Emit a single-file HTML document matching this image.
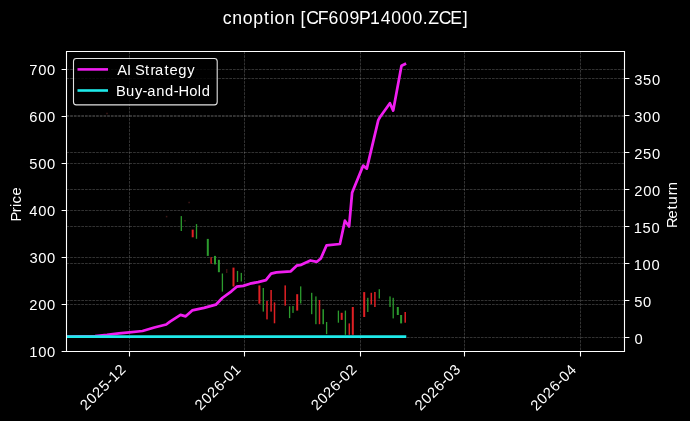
<!DOCTYPE html>
<html><head><meta charset="utf-8"><title>chart</title>
<style>html,body{margin:0;padding:0;background:#000;overflow:hidden}svg{display:block;will-change:transform}text{font-family:"Liberation Sans", sans-serif}</style>
</head><body><svg width="690" height="421" viewBox="0 0 690 421" font-family='"Liberation Sans", sans-serif' fill="#fff"><rect x="0" y="0" width="690" height="421" fill="#000"/><path d="M129.5 51.5V351.5M244.5 51.5V351.5M360.5 51.5V351.5M464.5 51.5V351.5M580.5 51.5V351.5M66.5 304.5H624.5M66.5 257.5H624.5M66.5 210.5H624.5M66.5 163.5H624.5M66.5 116.5H624.5M66.5 69.5H624.5M66.5 337.5H624.5M66.5 300.5H624.5M66.5 263.5H624.5M66.5 226.5H624.5M66.5 189.5H624.5M66.5 152.5H624.5M66.5 115.5H624.5M66.5 78.5H624.5" stroke="#fff" stroke-opacity="0.23" stroke-width="0.85" stroke-dasharray="2.7 1.0" fill="none"/><rect x="180.65" y="216.1" width="1.3" height="14.9" fill="#2c9c2e"/><rect x="191.70" y="229.6" width="2.0" height="7.7" fill="#e02024"/><rect x="195.85" y="224.1" width="1.3" height="14.7" fill="#2c9c2e"/><rect x="206.80" y="238.9" width="2.0" height="17.0" fill="#2c9c2e"/><rect x="210.45" y="257.2" width="1.3" height="6.5" fill="#e02024"/><rect x="214.00" y="255.9" width="2.0" height="8.5" fill="#2c9c2e"/><rect x="217.90" y="259.8" width="2.0" height="12.4" fill="#2c9c2e"/><rect x="221.75" y="273.5" width="1.3" height="18.1" fill="#2c9c2e"/><rect x="226.30" y="269.0" width="1.0" height="4.0" fill="#5a1a1a"/><rect x="232.50" y="267.6" width="2.0" height="18.9" fill="#e02024"/><rect x="236.85" y="270.9" width="1.3" height="11.1" fill="#2c9c2e"/><rect x="240.65" y="272.9" width="1.3" height="8.6" fill="#2c9c2e"/><rect x="258.40" y="285.4" width="2.0" height="18.3" fill="#e02024"/><rect x="262.65" y="288.0" width="1.3" height="23.6" fill="#2c9c2e"/><rect x="266.25" y="301.0" width="1.5" height="18.4" fill="#e02024"/><rect x="270.35" y="290.0" width="1.5" height="21.6" fill="#e02024"/><rect x="273.75" y="302.4" width="1.5" height="20.9" fill="#e02024"/><rect x="284.45" y="285.4" width="1.5" height="20.3" fill="#e02024"/><rect x="288.95" y="306.3" width="1.3" height="11.8" fill="#2c9c2e"/><rect x="292.35" y="306.0" width="1.3" height="6.9" fill="#2c9c2e"/><rect x="296.20" y="294.2" width="2.0" height="16.4" fill="#e02024"/><rect x="300.05" y="286.4" width="1.3" height="17.1" fill="#2c9c2e"/><rect x="311.05" y="292.8" width="1.3" height="21.4" fill="#2c9c2e"/><rect x="315.25" y="296.4" width="1.3" height="27.8" fill="#2c9c2e"/><rect x="318.75" y="300.0" width="1.5" height="24.2" fill="#e02024"/><rect x="322.45" y="309.2" width="1.5" height="15.0" fill="#2c9c2e"/><rect x="325.95" y="322.0" width="1.3" height="12.1" fill="#2c9c2e"/><rect x="337.75" y="310.6" width="1.3" height="12.1" fill="#2c9c2e"/><rect x="340.70" y="312.8" width="2.0" height="7.1" fill="#e02024"/><rect x="344.75" y="310.6" width="1.3" height="24.2" fill="#2c9c2e"/><rect x="348.55" y="323.4" width="1.5" height="11.4" fill="#e02024"/><rect x="351.80" y="307.0" width="2.0" height="27.8" fill="#e02024"/><rect x="363.20" y="292.1" width="2.0" height="24.9" fill="#e02024"/><rect x="367.15" y="297.8" width="1.3" height="14.2" fill="#2c9c2e"/><rect x="370.55" y="292.8" width="1.5" height="11.4" fill="#e02024"/><rect x="374.15" y="292.0" width="1.5" height="15.0" fill="#e02024"/><rect x="378.65" y="289.2" width="1.3" height="9.3" fill="#2c9c2e"/><rect x="389.35" y="296.4" width="1.3" height="10.6" fill="#2c9c2e"/><rect x="392.55" y="297.8" width="1.3" height="20.6" fill="#2c9c2e"/><rect x="396.80" y="307.0" width="2.0" height="8.0" fill="#2c9c2e"/><rect x="400.10" y="315.0" width="2.0" height="8.4" fill="#2c9c2e"/><rect x="404.45" y="312.0" width="1.5" height="10.7" fill="#e02024"/><rect x="106.25" y="112.75" width="1.5" height="1.5" fill="#401818"/><rect x="165.85" y="215.85" width="1.5" height="1.5" fill="#401818"/><rect x="184.25" y="220.05" width="1.5" height="1.5" fill="#401818"/><rect x="188.35" y="201.75" width="1.5" height="1.5" fill="#401818"/><defs><clipPath id="ax"><rect x="66.5" y="51.5" width="558" height="300"/></clipPath></defs><g clip-path="url(#ax)"><path d="M66 336.6 L95 336.0 L107 334.9 L119 333.3 L129.4 332.4 L142.5 331.0 L154.3 327.5 L166.2 324.5 L170 321.6 L180.5 314.9 L185.7 316.3 L192.2 310.4 L204 307.8 L215.8 304.7 L222.3 298.0 L231.4 291.3 L236.7 286.7 L243.2 285.9 L250 283.7 L258.1 282.1 L265.9 280.1 L271.1 273.6 L276.4 272.3 L290.8 271.3 L296.6 265.7 L301.2 264.8 L310.4 260.5 L316.9 261.8 L320.8 258.5 L326.6 245.3 L339.9 244 L344.9 220.7 L349.1 226.5 L352.1 192.8 L354.1 187.8 L363.2 165.6 L366.8 168.6 L378.3 120.1 L379.9 117.3 L389.9 103.2 L393.2 110.6 L401.5 65.8 L404.9 64.1" stroke="#f01ef0" stroke-width="2.75" fill="none" stroke-linejoin="round" stroke-linecap="square"/><path d="M66 336.6H404.9" stroke="#1eeaea" stroke-width="2.75" stroke-linecap="square" fill="none"/></g><path d="M66.5 51.5H624.5V351.5H66.5Z" stroke="#fff" stroke-width="1.1" fill="none"/><path d="M129.5 351.5v4.9M244.5 351.5v4.9M360.5 351.5v4.9M464.5 351.5v4.9M580.5 351.5v4.9M66.5 351.5h-4.9M66.5 304.5h-4.9M66.5 257.5h-4.9M66.5 210.5h-4.9M66.5 163.5h-4.9M66.5 116.5h-4.9M66.5 69.5h-4.9M624.5 337.5h4.9M624.5 300.5h4.9M624.5 263.5h4.9M624.5 226.5h4.9M624.5 189.5h4.9M624.5 152.5h4.9M624.5 115.5h4.9M624.5 78.5h4.9" stroke="#fff" stroke-width="1.1" fill="none"/><text transform="translate(54.60,357.00)" x="-25.32 -16.42 -7.59" y="0" font-size="14.72">100</text><text transform="translate(54.60,310.02)" x="-25.43 -16.42 -7.59" y="0" font-size="14.72">200</text><text transform="translate(54.60,263.03)" x="-25.23 -16.42 -7.59" y="0" font-size="14.72">300</text><text transform="translate(54.60,216.05)" x="-25.25 -16.42 -7.59" y="0" font-size="14.72">400</text><text transform="translate(54.60,169.07)" x="-25.30 -16.42 -7.59" y="0" font-size="14.72">500</text><text transform="translate(54.60,122.08)" x="-25.25 -16.42 -7.59" y="0" font-size="14.72">600</text><text transform="translate(54.60,75.10)" x="-25.27 -16.42 -7.59" y="0" font-size="14.72">700</text><text transform="translate(635.00,343.90)" x="-0.59" y="0" font-size="14.72">0</text><text transform="translate(635.00,306.86)" x="-0.80 8.08" y="0" font-size="14.72">50</text><text transform="translate(635.00,269.81)" x="-1.28 7.62 16.45" y="0" font-size="14.72">100</text><text transform="translate(635.00,232.77)" x="-1.28 7.57 16.45" y="0" font-size="14.72">150</text><text transform="translate(635.00,195.73)" x="-0.88 8.13 16.96" y="0" font-size="14.72">200</text><text transform="translate(635.00,158.69)" x="-0.88 8.08 16.96" y="0" font-size="14.72">250</text><text transform="translate(635.00,121.64)" x="-0.72 8.09 16.92" y="0" font-size="14.72">300</text><text transform="translate(635.00,84.60)" x="-0.72 8.04 16.92" y="0" font-size="14.72">350</text><text transform="translate(125.80,371.10) rotate(-45)" x="-56.45 -47.44 -38.80 -29.84 -21.23 -16.03 -7.31" y="0" font-size="14.72">2025-12</text><text transform="translate(240.80,371.10) rotate(-45)" x="-56.56 -47.55 -38.91 -29.89 -21.33 -16.06 -7.31" y="0" font-size="14.72">2026-01</text><text transform="translate(356.80,371.10) rotate(-45)" x="-56.45 -47.44 -38.80 -29.79 -21.23 -15.95 -7.31" y="0" font-size="14.72">2026-02</text><text transform="translate(460.80,371.10) rotate(-45)" x="-56.73 -47.72 -39.07 -30.06 -21.50 -16.23 -7.38" y="0" font-size="14.72">2026-03</text><text transform="translate(576.80,371.10) rotate(-45)" x="-57.06 -48.05 -39.41 -30.40 -21.84 -16.56 -7.73" y="0" font-size="14.72">2026-04</text><text transform="translate(21.40,203.80) rotate(-90)" x="-17.73 -8.45 -3.11 0.41 8.28" y="0" font-size="14.72">Price</text><text transform="translate(677.30,204.60) rotate(-90)" x="-23.38 -13.89 -4.92 0.16 9.34 14.47" y="0" font-size="14.72">Return</text><text transform="translate(345.10,23.70)" x="-122.34 -112.76 -102.44 -91.97 -81.13 -75.02 -70.57 -60.19 -50.06 -44.63 -38.94 -27.32 -16.73 -6.15 4.37 14.03 24.94 35.61 46.18 56.76 67.34 77.72 83.12 93.55 105.13 117.77" y="0" font-size="17.66">cnoption [CF609P14000.ZCE]</text><rect x="73.5" y="58.5" width="143.7" height="46.4" rx="2.8" ry="2.8" fill="#000" fill-opacity="0.8" stroke="#e2e2e2" stroke-width="1.1"/><path d="M77.5 69.4H108" stroke="#f01ef0" stroke-width="2.6"/><path d="M77.5 90.5H108" stroke="#1eeaea" stroke-width="2.6"/><text transform="translate(117.60,74.50)" x="-0.27 9.39 13.48 17.46 27.33 32.80 37.47 46.98 51.99 60.55 69.55" y="0" font-size="14.72">AI Strategy</text><text transform="translate(117.60,96.00)" x="-1.53 8.43 17.38 24.97 29.55 38.76 47.45 56.08 60.93 71.62 80.24 84.04" y="0" font-size="14.72">Buy-and-Hold</text></svg></body></html>
